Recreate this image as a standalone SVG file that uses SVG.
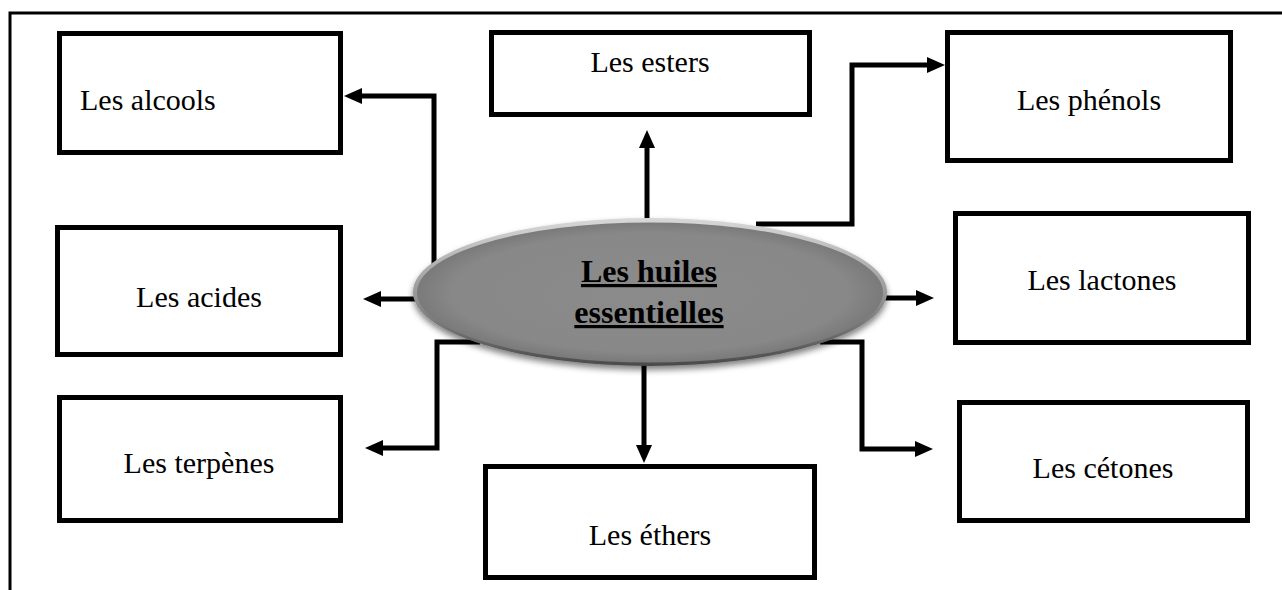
<svg xmlns="http://www.w3.org/2000/svg" width="1282" height="590" viewBox="0 0 1282 590">
<style>
.box{fill:#fff;stroke:#000;stroke-width:5}
.lbl{font-family:"Liberation Serif","Times New Roman",serif;font-size:30px;fill:#000}
.mid{text-anchor:middle}
.con{fill:none;stroke:#000;stroke-width:5;marker-end:url(#ah)}
.ctr{font-family:"Liberation Serif","Times New Roman",serif;font-size:32px;font-weight:bold;fill:#000;text-anchor:middle;text-decoration:underline}
</style>
<defs>
<marker id="ah" viewBox="0 0 18 16" refX="0" refY="8" markerWidth="18" markerHeight="16" markerUnits="userSpaceOnUse" orient="auto">
<path d="M0,0 L18,8 L0,16 z" fill="#000"/>
</marker>
<radialGradient id="eg" cx="0.5" cy="0.5" r="0.5">
<stop offset="0" stop-color="#8b8b8b"/>
<stop offset="0.85" stop-color="#888"/>
<stop offset="1" stop-color="#7a7a7a"/>
</radialGradient>
<linearGradient id="rim" x1="0" y1="0" x2="0" y2="1">
<stop offset="0" stop-color="#d8d8d8"/>
<stop offset="0.5" stop-color="#9a9a9a"/>
<stop offset="1" stop-color="#4a4a4a"/>
</linearGradient>
<filter id="sh" x="-10%" y="-20%" width="120%" height="150%">
<feGaussianBlur in="SourceAlpha" stdDeviation="3"/>
<feOffset dx="0" dy="4" result="b"/>
<feComponentTransfer><feFuncA type="linear" slope="0.5"/></feComponentTransfer>
<feMerge><feMergeNode/><feMergeNode in="SourceGraphic"/></feMerge>
</filter>
</defs>
<g id="frame" fill="none" stroke="#000" stroke-width="3">
<path d="M10,590 V13 H1282"/>
</g>
<g id="connectors">
<path class="con" d="M434,275 V96 H362"/>
<path class="con" d="M647,225 V148"/>
<path class="con" d="M756,224 H852 V65 H927"/>
<path class="con" d="M420,299 H381"/>
<path class="con" d="M880,298 H916"/>
<path class="con" d="M480,342 H437 V448 H383"/>
<path class="con" d="M644,360 V445"/>
<path class="con" d="M820,342 H862 V449 H915"/>
</g>
<g id="n-alcools">
<rect class="box" x="59.5" y="33.5" width="281" height="119"/>
<text class="lbl" x="80" y="110">Les alcools</text>
</g>
<g id="n-esters">
<rect class="box" x="491.5" y="32.5" width="318" height="82"/>
<text class="lbl mid" x="650" y="72">Les esters</text>
</g>
<g id="n-phenols">
<rect class="box" x="947.5" y="32.5" width="283" height="128"/>
<text class="lbl mid" x="1089" y="110">Les phénols</text>
</g>
<g id="n-acides">
<rect class="box" x="57.5" y="227.5" width="283" height="127"/>
<text class="lbl mid" x="199" y="307">Les acides</text>
</g>
<g id="n-lactones">
<rect class="box" x="955.5" y="213.5" width="293" height="129"/>
<text class="lbl mid" x="1102" y="290">Les lactones</text>
</g>
<g id="n-terpenes">
<rect class="box" x="59.5" y="397.5" width="281" height="123"/>
<text class="lbl mid" x="199" y="473">Les terpènes</text>
</g>
<g id="n-cetones">
<rect class="box" x="959.5" y="402.5" width="288" height="118"/>
<text class="lbl mid" x="1103" y="478">Les cétones</text>
</g>
<g id="n-ethers">
<rect class="box" x="485.5" y="466.5" width="329" height="111"/>
<text class="lbl mid" x="650" y="545">Les éthers</text>
</g>
<g id="n-center">
<ellipse cx="650" cy="292" rx="237" ry="74" fill="url(#rim)" filter="url(#sh)"/>
<ellipse cx="650" cy="292.5" rx="233" ry="70" fill="url(#eg)"/>
<text class="ctr" x="649" y="282">Les huiles</text>
<text class="ctr" x="649" y="323">essentielles</text>
</g>
</svg>
